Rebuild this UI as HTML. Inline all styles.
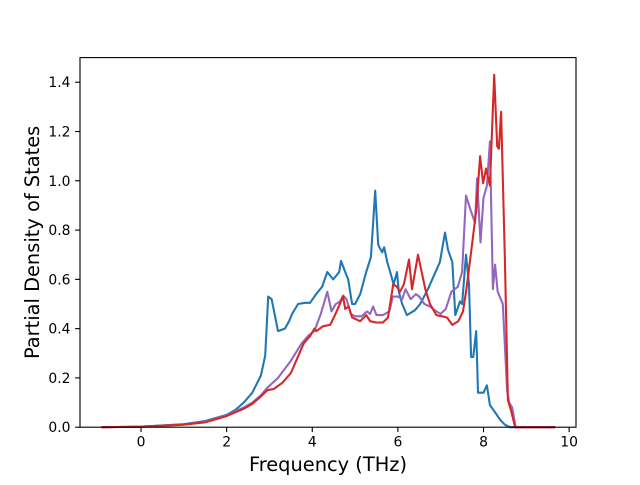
<!DOCTYPE html>
<html><head><meta charset="utf-8"><style>
body{margin:0;background:#fff}
svg text{font-family:"DejaVu Sans","Liberation Sans",sans-serif;fill:#000}
</style></head><body>
<svg id="chart" width="640" height="480" viewBox="0 0 640 480" xmlns="http://www.w3.org/2000/svg">
<rect width="640" height="480" fill="#fff"/>
<g id="plot"></g>
<g id="axes"></g>
</svg>
<script>
const xTicks=[0,2,4,6,8,10];
const yTicks=[0,0.2,0.4,0.6,0.8,1.0,1.2,1.4];
const yTickLabels=["0.0","0.2","0.4","0.6","0.8","1.0","1.2","1.4"];
const blueX=[-0.9,0,1,1.5,2,2.2,2.4,2.6,2.8,2.9,2.97,3.05,3.2,3.36,3.46,3.53,3.67,3.83,3.95,4.09,4.23,4.35,4.49,4.63,4.67,4.77,4.84,4.93,5.0,5.12,5.26,5.37,5.47,5.54,5.63,5.68,5.75,5.82,5.9,5.98,6.02,6.1,6.21,6.4,6.52,6.7,6.98,7.1,7.17,7.27,7.34,7.45,7.5,7.59,7.66,7.71,7.76,7.83,7.87,8.0,8.08,8.15,8.27,8.39,8.5,8.62,9.65];
const blueY=[0,0.002,0.012,0.025,0.05,0.07,0.1,0.14,0.21,0.29,0.53,0.52,0.39,0.40,0.43,0.46,0.50,0.505,0.505,0.54,0.57,0.63,0.60,0.63,0.675,0.63,0.60,0.50,0.50,0.54,0.63,0.69,0.96,0.74,0.71,0.73,0.67,0.63,0.58,0.63,0.55,0.50,0.455,0.475,0.50,0.56,0.67,0.79,0.72,0.67,0.455,0.51,0.50,0.70,0.58,0.285,0.285,0.39,0.14,0.14,0.17,0.09,0.06,0.03,0.01,0,0];
const redX=[-0.9,0,1,1.5,2,2.4,2.6,2.8,2.95,3.1,3.3,3.5,3.7,3.8,3.95,4.05,4.1,4.25,4.42,4.53,4.72,4.77,4.85,4.93,5.12,5.26,5.35,5.49,5.65,5.77,5.89,5.98,6.05,6.14,6.26,6.33,6.47,6.64,6.75,6.9,7.03,7.15,7.27,7.41,7.52,7.6,7.73,7.83,7.92,7.99,8.06,8.15,8.25,8.32,8.36,8.41,8.5,8.57,8.64,8.74,9.65];
const redY=[0,0.002,0.01,0.02,0.045,0.075,0.095,0.125,0.15,0.155,0.18,0.22,0.30,0.34,0.37,0.40,0.39,0.41,0.415,0.455,0.53,0.48,0.49,0.445,0.43,0.455,0.43,0.425,0.425,0.445,0.58,0.57,0.55,0.58,0.68,0.56,0.70,0.56,0.50,0.455,0.45,0.445,0.415,0.43,0.47,0.56,0.74,0.88,1.10,0.99,1.05,0.98,1.43,1.14,1.13,1.28,0.68,0.11,0.07,0,0];
const purpleX=[-0.9,0,1,1.5,2,2.4,2.6,2.8,2.95,3.2,3.5,3.75,3.9,4.05,4.2,4.35,4.45,4.55,4.65,4.72,4.8,4.9,5.0,5.15,5.28,5.35,5.42,5.5,5.65,5.8,5.88,6.0,6.1,6.18,6.3,6.42,6.5,6.62,6.75,6.9,7.0,7.12,7.25,7.4,7.5,7.59,7.7,7.8,7.85,7.93,8.0,8.08,8.15,8.22,8.27,8.33,8.45,8.55,8.6,8.67,8.75,9.65];
const purpleY=[0,0.002,0.011,0.022,0.048,0.08,0.1,0.13,0.16,0.2,0.27,0.34,0.37,0.39,0.46,0.55,0.47,0.50,0.51,0.535,0.52,0.46,0.45,0.45,0.47,0.46,0.49,0.455,0.455,0.47,0.53,0.53,0.52,0.56,0.52,0.54,0.53,0.50,0.49,0.47,0.46,0.48,0.55,0.57,0.63,0.94,0.88,0.83,1.01,0.75,0.93,0.98,1.16,0.56,0.66,0.55,0.50,0.15,0.10,0.08,0,0];
const L=80,R=576,T=57.6,B=427.2,XMIN=-1.425,XMAX=10.16,YMIN=0,YMAX=1.5;
const sx=v=>L+(v-XMIN)/(XMAX-XMIN)*(R-L);
const sy=v=>B-(v-YMIN)/(YMAX-YMIN)*(B-T);
const NS="http://www.w3.org/2000/svg";
function mk(tag,attrs,parent){const e=document.createElementNS(NS,tag);for(const k in attrs)e.setAttribute(k,attrs[k]);parent.appendChild(e);return e;}
const plot=document.getElementById('plot'),axes=document.getElementById('axes');
function line(xs,ys,color,name){
  const d=xs.map((x,i)=>(i?'L':'M')+sx(x).toFixed(1)+','+sy(ys[i]).toFixed(1)).join(' ');
  const p=mk('path',{d:d,fill:'none',stroke:color,'stroke-width':2.08,'stroke-linejoin':'round','stroke-linecap':'square'},plot);
  
  
}
line(blueX,blueY,'#1f77b4','blue-series-line');
line(purpleX,purpleY,'#9467bd','purple-series-line');
line(redX,redY,'#d62728','red-series-line');
const frame=mk('rect',{x:L,y:T,width:R-L,height:B-T,fill:'none',stroke:'#000','stroke-width':1.1},axes);


xTicks.forEach(v=>{
  const x=sx(v);
  const t=mk('line',{x1:x,x2:x,y1:B,y2:B+4.9,stroke:'#000','stroke-width':1.1},axes);
  
  
  const tx=mk('text',{x:x,y:B+19.5,'text-anchor':'middle','font-size':13.9},axes);
  tx.textContent=String(v);
  
  
});
yTicks.forEach((v,i)=>{
  const y=sy(v);
  const t=mk('line',{x1:L-4.9,x2:L,y1:y,y2:y,stroke:'#000','stroke-width':1.1},axes);
  
  
  const tx=mk('text',{x:L-9.5,y:y+5,'text-anchor':'end','font-size':13.9},axes);
  tx.textContent=yTickLabels[i];
  
  
});
const xl=mk('text',{x:(L+R)/2,y:471,'text-anchor':'middle','font-size':19.4},axes);
xl.textContent='Frequency (THz)';


const yl=mk('text',{x:0,y:0,'text-anchor':'middle','font-size':19.4,transform:'translate(39,'+((T+B)/2)+') rotate(-90)'},axes);
yl.textContent='Partial Density of States';


</script>
</body></html>
